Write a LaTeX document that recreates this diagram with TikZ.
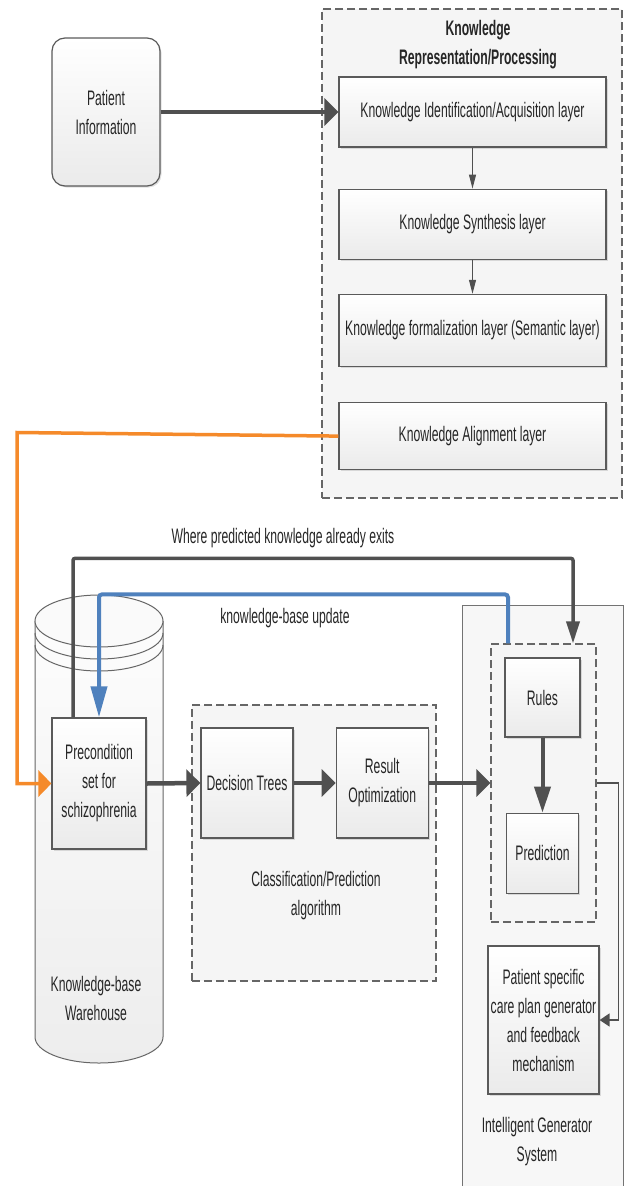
\documentclass[tikz,border=0pt]{standalone}
\usepackage{fontspec}
\setmainfont[FakeStretch=0.58]{Liberation Sans}
\usetikzlibrary{positioning,shadows,arrows.meta}
\definecolor{linegray}{HTML}{505050}
\definecolor{boxborder}{HTML}{5A5A5A}
\definecolor{kborange}{HTML}{F58A2A}
\definecolor{kbblue}{HTML}{4F81BD}
\tikzstyle{txt} = [font=\fontsize{21}{29}\selectfont, text=black!85, align=center]
\tikzstyle{layerbox} = [rectangle, draw=boxborder, line width=1.2pt, top color=white, bottom color=black!8, drop shadow={shadow xshift=1.5pt, shadow yshift=-1.5pt, opacity=0.25}, txt, minimum width=267pt, minimum height=70pt]
\tikzstyle{stagebox} = [layerbox, inner sep=2pt, minimum width=92pt, minimum height=110pt]
\tikzstyle{groupbox} = [rectangle, draw=black!60, dash pattern=on 8pt off 4pt, line width=1.2pt, fill=black!4]
\tikzstyle{igsbox} = [rectangle, draw=black!55, line width=1pt, fill=black!3]
\tikzstyle{cylline} = [draw=black!60, line width=1pt]
\tikzstyle{bigflow} = [draw=linegray, line width=4.5pt, -{Triangle[length=14pt,width=27pt]}]
\tikzstyle{downflow} = [draw=linegray, line width=4pt, -{Triangle[length=26pt,width=16pt]}]
\tikzstyle{thinflow} = [draw=linegray, line width=1pt, -{Triangle[length=14pt,width=7pt]}]
\tikzstyle{darkflow} = [draw=linegray, line width=3.5pt, rounded corners=2pt, -{Triangle[length=22pt,width=13pt]}]
\tikzstyle{blueflow} = [draw=kbblue, line width=4pt, rounded corners=3pt, -{Triangle[length=31pt,width=16pt]}]
\tikzstyle{orangeflow} = [draw=kborange, line width=3.5pt, -{Triangle[length=13pt,width=26pt]}]
\tikzstyle{sideflow} = [draw=linegray, line width=1.5pt, -{Triangle[length=10pt,width=13pt]}]

\begin{document}
\begin{tikzpicture}[x=1pt, y=-1pt]
\useasboundingbox (0,0) rectangle (624,1186);
% containers
\node [groupbox, minimum width=300pt, minimum height=489pt] (krgroup) at (472,253.5) {};
\node [txt, font=\fontsize{21}{29}\selectfont\bfseries] (krtitle) at (478,44.5) {Knowledge\\Representation/Processing};
\node [groupbox, minimum width=244pt, minimum height=276pt] (classgrp) at (314,843) {};
\node [igsbox, minimum width=161pt, minimum height=590pt] (igsgrp) at (542.5,900) {};
\node [groupbox, minimum width=105pt, minimum height=278pt] (rulegrp) at (543.5,783) {};

% warehouse cylinder
\path [top color=black!1, bottom color=black!7] (35,621) -- (35,1037) arc [start angle=180, end angle=0, x radius=64, y radius=26] -- (163,621) -- cycle;
\draw [cylline] (35,621) -- (35,1037) arc [start angle=180, end angle=0, x radius=64, y radius=26] -- (163,621);
\draw [cylline, fill=black!2] (99,621) ellipse [x radius=64, y radius=26];
\draw [cylline] (35,633) arc [start angle=180, end angle=0, x radius=64, y radius=26];
\draw [cylline] (35,645) arc [start angle=180, end angle=0, x radius=64, y radius=26];

% boxes
\node [layerbox, rounded corners=13pt, minimum width=108pt, minimum height=148pt] (patient) at (106,112) {Patient\\Information};
\node [layerbox] (ident) at (472.5,112) {Knowledge Identification/Acquisition layer};
\node [layerbox, below=41pt of ident] (synth) {Knowledge Synthesis layer};
\node [layerbox, below=34pt of synth, minimum height=72pt] (formal) {Knowledge formalization layer (Semantic layer)};
\node [layerbox, below=35pt of formal, minimum height=67pt] (align) {Knowledge Alignment layer};

\node [stagebox, minimum width=94pt, minimum height=131pt] (precond) at (99,783.5) {Precondition\\set for\\schizophrenia};
\node [stagebox] (dectree) at (247,783) {Decision Trees};
\node [stagebox, right=42pt of dectree] (resopt) {Result\\Optimization};
\node [stagebox, minimum width=75pt, minimum height=79pt] (rules) at (542.5,697.5) {Rules};
\node [stagebox, minimum width=72pt, minimum height=80pt, below=75pt of rules] (predict) {Prediction};
\node [stagebox, minimum width=111pt, minimum height=148pt] (careplan) at (543.5,1020) {Patient specific\\care plan generator\\and feedback\\mechanism};

% labels
\node [txt] (classlbl) at (316,896) {Classification/Prediction\\algorithm};
\node [txt] (igslbl) at (537,1142) {Intelligent Generator\\System};
\node [txt] (warelbl) at (96,998) {Knowledge-base\\Warehouse};
\node [txt] (existlbl) at (283,538) {Where predicted knowledge already exits};
\node [txt] (updatelbl) at (285,618) {knowledge-base update};

% connectors
\coordinate (orangebend) at (17,432.5);
\draw [bigflow] (patient.east) -- (ident.west);
\draw [thinflow] (ident) -- (synth);
\draw [thinflow] (synth) -- (formal);
\draw [orangeflow] (align.west) -- (orangebend) |- (precond.west);
\draw [bigflow] (precond.east) -- (dectree.west);
\draw [bigflow] (dectree.east) -- (resopt.west);
\draw [bigflow] (resopt.east) -- (rulegrp.west);
\draw [downflow] (rules) -- (predict);
\draw [darkflow] ([xshift=-26pt]precond.north) -- ++(0,-159) -| ([xshift=29.5pt]rulegrp.north);
\draw [blueflow] ([xshift=-35.5pt]rulegrp.north) -- ++(0,-49) -| (precond.north);
\draw [sideflow] (rulegrp.east) -- ++(22,0) |- (careplan.east);
\end{tikzpicture}
\end{document}
